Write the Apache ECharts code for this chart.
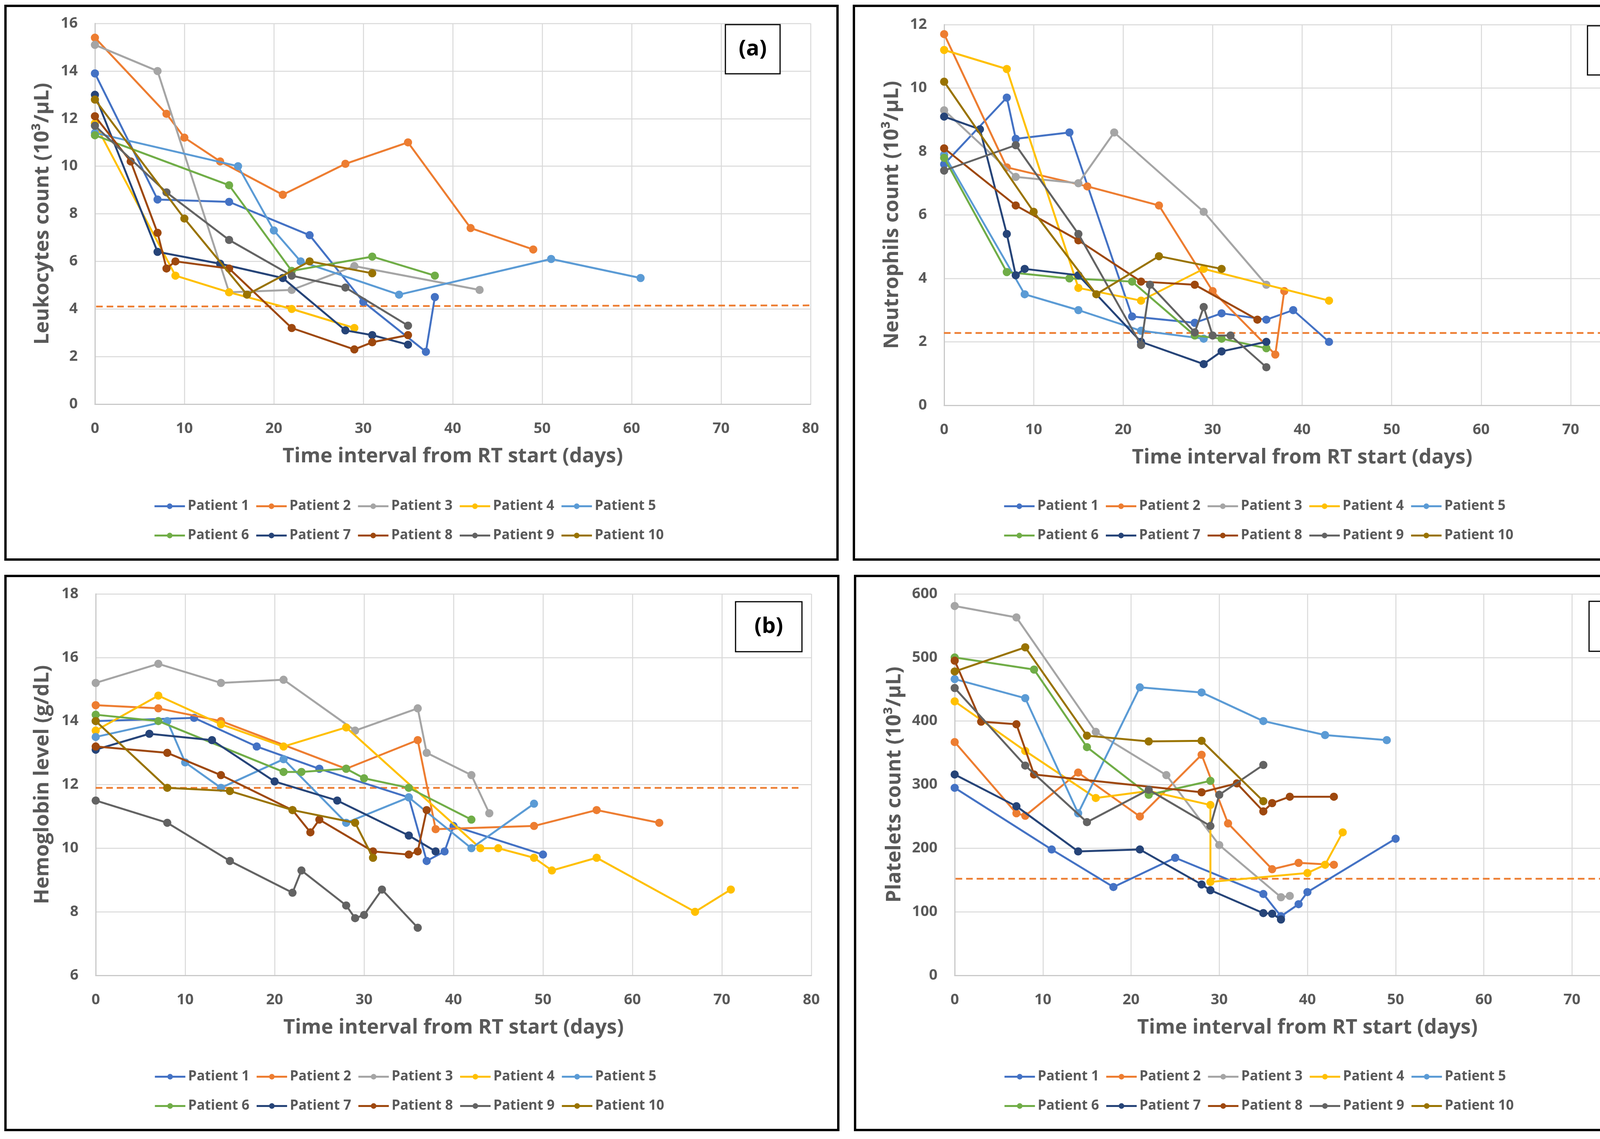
<!DOCTYPE html>
<html><head><meta charset="utf-8">
<script src="https://cdn.jsdelivr.net/npm/echarts@6/dist/echarts.min.js"></script>
<style>html,body{margin:0;padding:0;background:#fff}#c{width:4339px;height:2917px}</style>
</head><body><div id="c"></div>
<script>
// ---------- data ----------
const patients = ['Patient 1','Patient 2','Patient 3','Patient 4','Patient 5','Patient 6','Patient 7','Patient 8','Patient 9','Patient 10'];
const colors = ['#4472C4','#ED7D31','#A5A5A5','#FFC000','#5B9BD5','#70AD47','#264478','#9E480E','#636363','#997300'];
const xTicks = [0,10,20,30,40,50,60,70,80];

// (a) Leukocytes
const wbcDays = [
  [0,7,15,24,30,37,38],
  [0,8,10,14,21,28,35,42,49],
  [0,7,15,22,29,43],
  [0,9,15,22,29],
  [0,16,20,23,34,51,61],
  [0,15,22,31,38],
  [0,7,14,21,28,31,35],
  [0,4,7,8,9,15,22,29,31,35],
  [0,8,15,22,28,35],
  [0,10,17,24,31]
];
const wbcValues = [
  [13.9,8.6,8.5,7.1,4.3,2.2,4.5],
  [15.4,12.2,11.2,10.2,8.8,10.1,11.0,7.4,6.5],
  [15.1,14.0,4.7,4.8,5.8,4.8],
  [11.8,5.4,4.7,4.0,3.2],
  [11.4,10.0,7.3,6.0,4.6,6.1,5.3],
  [11.3,9.2,5.6,6.2,5.4],
  [13.0,6.4,5.9,5.3,3.1,2.9,2.5],
  [12.1,10.2,7.2,5.7,6.0,5.7,3.2,2.3,2.6,2.9],
  [11.7,8.9,6.9,5.4,4.9,3.3],
  [12.8,7.8,4.6,6.0,5.5]
];
const wbcRef = [[-1.05,4.1],[80.2,4.15]];

// (c) Neutrophils
const neuDays = [
  [0,7,8,14,21,28,31,36,39,43],
  [0,7,16,24,30,37,38],
  [0,8,15,19,29,36],
  [0,7,15,22,29,43],
  [0,9,15,22,29],
  [0,7,14,21,28,31,36],
  [0,4,7,8,9,15,22,29,31,36],
  [0,8,15,22,28,35],
  [0,8,15,22,23,28,29,30,32,36],
  [0,10,17,24,31]
];
const neuValues = [
  [7.6,9.7,8.4,8.6,2.8,2.6,2.9,2.7,3.0,2.0],
  [11.7,7.5,6.9,6.3,3.6,1.6,3.6],
  [9.3,7.2,7.0,8.6,6.1,3.8],
  [11.2,10.6,3.7,3.3,4.3,3.3],
  [7.9,3.5,3.0,2.35,2.1],
  [7.8,4.2,4.0,3.9,2.2,2.1,1.8],
  [9.1,8.7,5.4,4.1,4.3,4.1,2.0,1.3,1.7,2.0],
  [8.1,6.3,5.2,3.9,3.8,2.7],
  [7.4,8.2,5.4,1.9,3.8,2.3,3.1,2.2,2.2,1.2],
  [10.2,6.1,3.5,4.7,4.3]
];
const neuRef = [[-1.2,2.28],[80.2,2.28]];

// (b) Hemoglobin
const hbDays = [
  [0,11,18,25,35,37,39,40,50],
  [0,7,14,28,36,38,49,56,63],
  [0,7,14,21,29,36,37,42,44],
  [0,7,14,21,28,43,45,49,51,56,67,71],
  [0,8,10,14,21,28,35,42,49],
  [0,7,21,23,28,30,35,42],
  [0,6,13,20,27,35,38],
  [0,8,14,22,24,25,31,35,36,37],
  [0,8,15,22,23,28,29,30,32,36],
  [0,8,15,22,29,31]
];
const hbValues = [
  [14.0,14.1,13.2,12.5,11.6,9.6,9.9,10.7,9.8],
  [14.5,14.4,14.0,12.5,13.4,10.6,10.7,11.2,10.8],
  [15.2,15.8,15.2,15.3,13.7,14.4,13.0,12.3,11.1],
  [13.7,14.8,13.9,13.2,13.8,10.0,10.0,9.7,9.3,9.7,8.0,8.7],
  [13.5,14.0,12.7,11.9,12.8,10.8,11.6,10.0,11.4],
  [14.2,14.0,12.4,12.4,12.5,12.2,11.9,10.9],
  [13.1,13.6,13.4,12.1,11.5,10.4,9.9],
  [13.2,13.0,12.3,11.2,10.5,10.9,9.9,9.8,9.9,11.2],
  [11.5,10.8,9.6,8.6,9.3,8.2,7.8,7.9,8.7,7.5],
  [14.0,11.9,11.8,11.2,10.8,9.7]
];
const hbRef = [[0,11.9],[78.7,11.9]];

// (d) Platelets
const pltDays = [
  [0,11,18,25,35,37,39,40,50],
  [0,7,8,14,21,28,31,36,39,43],
  [0,7,16,24,30,37,38],
  [0,8,16,22,29,29,40,42,44],
  [0,8,14,21,28,35,42,49],
  [0,9,15,22,29],
  [0,7,14,21,28,29,35,36,37],
  [0,3,7,9,28,32,35,36,38,43],
  [0,8,15,22,29,30,35],
  [0,8,15,22,28,35]
];
const pltValues = [
  [295,198,139,185,128,93,112,131,215],
  [367,255,251,319,250,347,239,167,177,174],
  [581,563,383,315,205,123,125],
  [431,353,279,290,268,147,161,174,225],
  [466,436,255,453,445,400,378,370],
  [500,481,359,284,306],
  [316,266,195,198,143,134,98,97,88],
  [495,399,395,316,288,302,258,271,281,281],
  [452,330,241,292,235,284,331],
  [478,516,377,368,369,274]
];
const pltRef = [[0.1,152],[80,152]];

// ---------- layout ----------
const FONT = '"Open Sans", "Noto Sans", sans-serif';
const GRAY = '#595959';
const panels = [
  {days: wbcDays, vals: wbcValues, ref: wbcRef, yMin:0, yMax:16, yInt:2, yName:'Leukocytes count (10³/µL)', tag:'(a)',
   grid:{left:243, top:60, width:1832, height:975}, nameGapY:108,
   box:[14,15,2130,1418], tagBox:[1857,63,140,126], legendLeft:393, legendRows:[1300,1375]},
  {days: neuDays, vals: neuValues, ref: neuRef, yMin:0, yMax:12, yInt:2, yName:'Neutrophils count (10³/µL)', tag:'(c)',
   grid:{left:2417, top:63, width:1833, height:975}, nameGapY:107,
   box:[2186,15,2136,1418], tagBox:[4064,66,138,126], legendLeft:2568, legendRows:[1300,1375]},
  {days: hbDays, vals: hbValues, ref: hbRef, yMin:6, yMax:18, yInt:2, yName:'Hemoglobin level (g/dL)', tag:'(b)',
   grid:{left:245, top:1521, width:1832, height:977}, nameGapY:110,
   box:[14,1475,2132,1419], tagBox:[1883,1541,170,128], legendLeft:394, legendRows:[2761,2836]},
  {days: pltDays, vals: pltValues, ref: pltRef, yMin:0, yMax:600, yInt:100, yName:'Platelets count (10³/µL)', tag:'(d)',
   grid:{left:2444, top:1521, width:1806, height:977}, nameGapY:128,
   box:[2189,1475,2133,1419], tagBox:[4068,1540,144,128], legendLeft:2569, legendRows:[2761,2836]}
];

const grids = [], xAxes = [], yAxes = [], series = [], legends = [], graphics = [];
const labelStyle = {color: GRAY, fontFamily: FONT, fontWeight: 'bold', fontSize: 38};
const nameStyle = {color: GRAY, fontFamily: FONT, fontWeight: 'bold', fontSize: 52};

panels.forEach((p, gi) => {
  graphics.push({type:'rect', shape:{x:p.box[0], y:p.box[1], width:p.box[2], height:p.box[3]},
    style:{fill:'#fff', stroke:'#000', lineWidth:6}, z:-10, silent:true});
  grids.push(Object.assign({containLabel:false}, p.grid));
  xAxes.push({type:'value', gridIndex:gi, min:0, max:80, interval:10,
    name:'Time interval from RT start (days)', nameLocation:'middle', nameGap:108, nameTextStyle:nameStyle,
    axisLine:{show:true, lineStyle:{color:'#C9C9C9', width:3}}, axisTick:{show:false},
    axisLabel:Object.assign({margin:44}, labelStyle),
    splitLine:{show:true, lineStyle:{color:'#D9D9D9', width:2.5}}});
  yAxes.push({type:'value', gridIndex:gi, min:p.yMin, max:p.yMax, interval:p.yInt,
    name:p.yName, nameLocation:'middle', nameGap:p.nameGapY, nameRotate:90, nameTextStyle:nameStyle,
    axisLine:{show:true, lineStyle:{color:'#C9C9C9', width:3}}, axisTick:{show:false},
    axisLabel:Object.assign({margin:44}, labelStyle),
    splitLine:{show:true, lineStyle:{color:'#D9D9D9', width:2.5}}});
  series.push({type:'line', name:'ref'+gi, xAxisIndex:gi, yAxisIndex:gi, data:p.ref, symbol:'none', clip:false,
    silent:true, z:1, lineStyle:{color:'#ED7D31', width:4.5, type:[17,10]}, itemStyle:{color:'#ED7D31'}});
  patients.forEach((name, i) => {
    series.push({type:'line', name:name, xAxisIndex:gi, yAxisIndex:gi,
      data:p.days[i].map((d,k)=>[d, p.vals[i][k]]),
      symbol:'circle', symbolSize:21, z:2+i,
      lineStyle:{color:colors[i], width:5}, itemStyle:{color:colors[i]}});
  });
  [0,1].forEach(r => {
    legends.push({data:patients.slice(r*5, r*5+5), left:p.legendLeft, top:p.legendRows[r]-21, orient:'horizontal',
      padding:0, itemGap:16, itemWidth:78, itemHeight:18,
      lineStyle:{width:5},
      textStyle:{color:GRAY, fontFamily:FONT, fontWeight:'bold', fontSize:35, width:180, padding:[0,0,0,2]},
      selectedMode:false});
  });
  graphics.push({type:'rect', shape:{x:p.tagBox[0], y:p.tagBox[1], width:p.tagBox[2], height:p.tagBox[3]},
    style:{fill:'#fff', stroke:'#000', lineWidth:3}, z:50});
  graphics.push({type:'text', x:p.tagBox[0]+p.tagBox[2]/2, y:p.tagBox[1]+p.tagBox[3]/2,
    style:{text:p.tag, fill:'#000', font:'bold 56px ' + FONT, textAlign:'center', textVerticalAlign:'middle'}, z:51});
});

const chart = echarts.init(document.getElementById('c'), null, {renderer:'canvas', width:4339, height:2917});
chart.setOption({
  animation:false, backgroundColor:'#fff',
  grid:grids, xAxis:xAxes, yAxis:yAxes, series:series, legend:legends, graphic:graphics
});
</script></body></html>
